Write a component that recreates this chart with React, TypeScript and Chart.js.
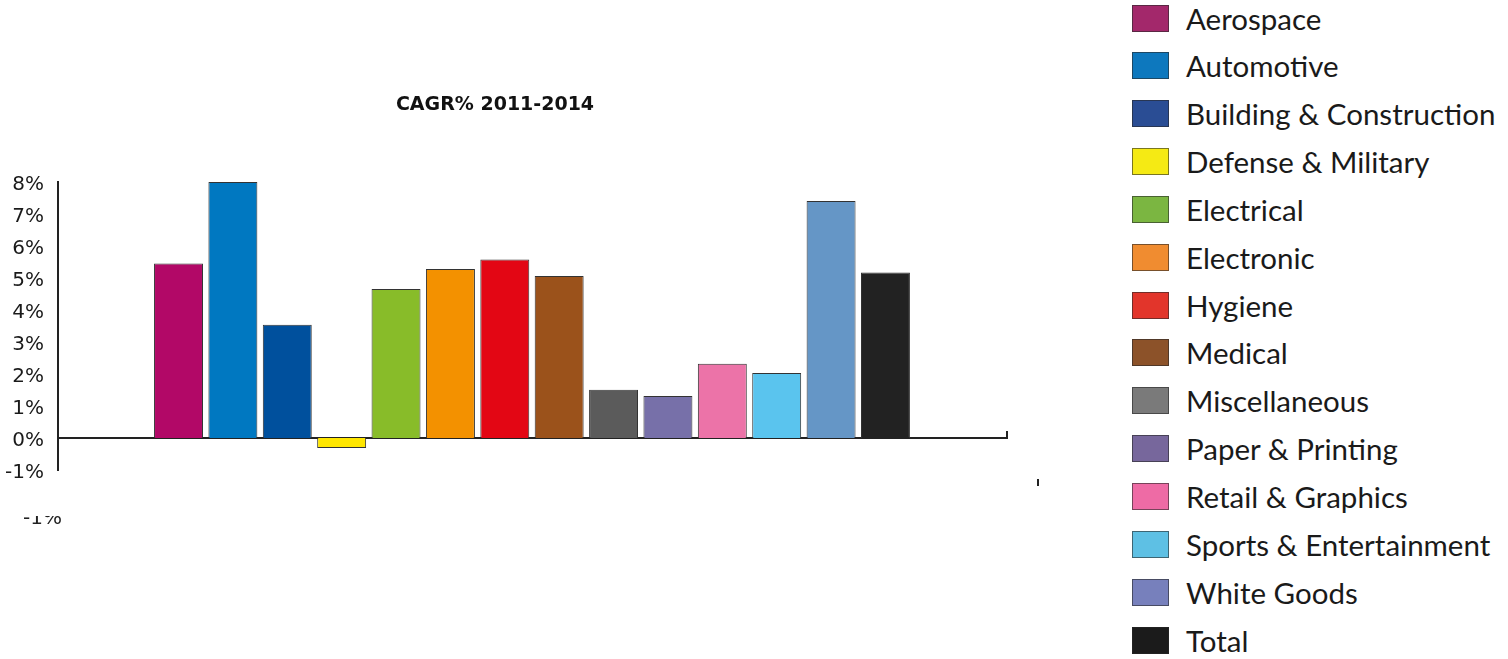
import React, { useEffect, useRef } from 'react';
import { Chart, registerables } from 'chart.js';

Chart.register(...registerables);

const chartTitle = 'CAGR% 2011-2014';
const categories = [
  'Aerospace',
  'Automotive',
  'Building & Construction',
  'Defense & Military',
  'Electrical',
  'Electronic',
  'Hygiene',
  'Medical',
  'Miscellaneous',
  'Paper & Printing',
  'Retail & Graphics',
  'Sports & Entertainment',
  'White Goods',
  'Total',
];
const cagrValues = [5.45, 8.0, 3.54, -0.31, 4.66, 5.28, 5.58, 5.06, 1.51, 1.31, 2.32, 2.03, 7.41, 5.17];
const barColors = [
  '#B20867', '#0078C1', '#00509D', '#FFE600', '#88BC29', '#F39100', '#E30614',
  '#9B521B', '#5B5B5B', '#7770A9', '#EC73A8', '#5AC4EE', '#6596C6', '#222222',
];
const legendColors = [
  '#A3286B', '#0D78BE', '#2A4D94', '#F5EA14', '#7BB641', '#F08C30', '#E2352B',
  '#8C5229', '#7A7A7A', '#77679C', '#EE6BA5', '#5EC0E4', '#7780BC', '#1B1B1B',
];
const yMin = -1;
const yMax = 8;
const yStep = 1;

const decorPlugin = {
  id: 'decor',
  afterDraw(chart: any) {
    const { ctx, chartArea, scales } = chart;
    const y0 = scales.y.getPixelForValue(0);
    ctx.save();
    // title
    ctx.fillStyle = '#111';
    ctx.font = 'bold 19px "DejaVu Sans"';
    ctx.textAlign = 'center';
    ctx.textBaseline = 'middle';
    ctx.fillText(chartTitle, 495, 105);
    // small end tick on the zero line
    ctx.strokeStyle = '#222';
    ctx.lineWidth = 2;
    ctx.beginPath();
    ctx.moveTo(chartArea.right, y0 + 1);
    ctx.lineTo(chartArea.right, y0 - 7);
    ctx.stroke();
    // stray marks in the reference
    ctx.beginPath();
    ctx.moveTo(1038, 479);
    ctx.lineTo(1038, 486);
    ctx.stroke();
    ctx.beginPath();
    ctx.rect(0, 516, 100, 30);
    ctx.clip();
    ctx.fillStyle = '#222';
    ctx.font = '20px "DejaVu Sans"';
    ctx.textAlign = 'right';
    ctx.fillText('-1%', 62, 519);
    ctx.restore();
  },
};

export default function App() {
  const canvasRef = useRef<HTMLCanvasElement | null>(null);

  useEffect(() => {
    document.body.style.margin = '0';
    const canvas = canvasRef.current;
    if (!canvas) return;
    const chart = new Chart(canvas, {
      type: 'bar',
      data: {
        labels: categories,
        datasets: [
          {
            label: chartTitle,
            data: cagrValues.map((v, i) => ({ x: i, y: v })),
            backgroundColor: barColors,
            borderColor: '#333333',
            borderWidth: 1,
            barPercentage: 0.9,
            categoryPercentage: 1,
          },
        ],
      },
      options: {
        animation: false,
        responsive: false,
        devicePixelRatio: 1,
        layout: { padding: { left: 0, top: 182, right: 93, bottom: 189 } },
        plugins: {
          legend: { display: false },
          title: { display: false },
          tooltip: { enabled: false },
        },
        scales: {
          x: {
            type: 'linear',
            position: { y: 0 } as any,
            offset: false,
            min: -2.216,
            max: 15.235,
            ticks: { display: false },
            grid: { display: false, drawTicks: false, offset: false },
            border: { display: true, color: '#222', width: 2 },
          },
          y: {
            min: yMin,
            max: yMax,
            afterFit: (s: any) => {
              s.width = 58;
            },
            ticks: {
              stepSize: yStep,
              padding: 14,
              labelOffset: 3,
              color: '#1a1a1a',
              font: { family: '"DejaVu Sans"', size: 20 },
              callback: (v: any) => `${v}%`,
            },
            grid: { display: false, drawTicks: false },
            border: { display: true, color: '#222', width: 2 },
          },
        },
      },
      plugins: [decorPlugin],
    });
    return () => chart.destroy();
  }, []);

  return (
    <div style={{ position: 'relative', width: 1508, height: 659, background: '#fff', overflow: 'hidden' }}>
      <canvas ref={canvasRef} width={1100} height={659} style={{ position: 'absolute', left: 0, top: 0 }} />
      {categories.map((name, i) => (
        <div
          key={name}
          style={{
            position: 'absolute',
            left: 1132,
            top: 18 + i * 47.85 - 24,
            height: 48,
            display: 'flex',
            alignItems: 'center',
            whiteSpace: 'nowrap',
          }}
        >
          <div
            style={{
              width: 35,
              height: 25,
              background: legendColors[i],
              border: '1px solid rgba(40,40,40,0.6)',
              marginRight: 17,
              flexShrink: 0,
            }}
          />
          <span style={{ fontFamily: 'Lato, sans-serif', fontSize: 29.5, color: '#1a1a1a' }}>{name}</span>
        </div>
      ))}
    </div>
  );
}
